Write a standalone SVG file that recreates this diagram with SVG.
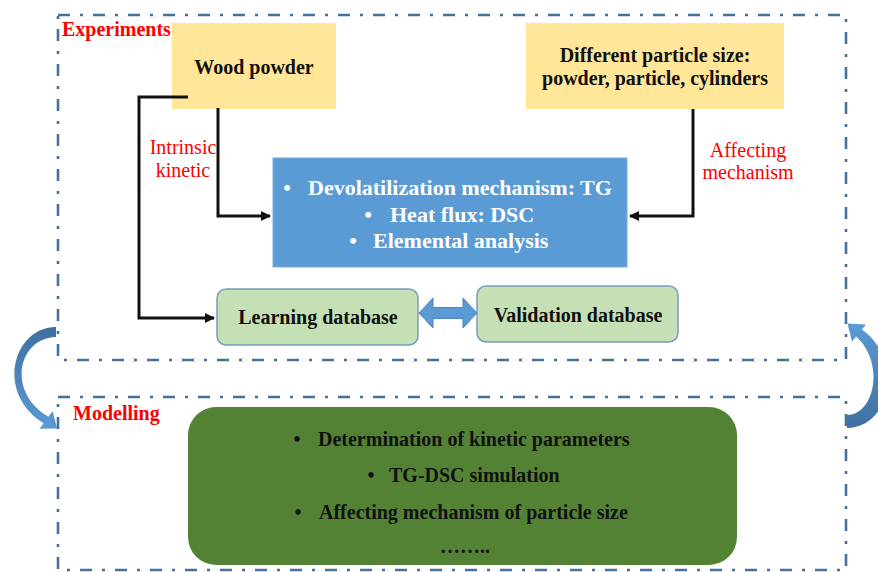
<svg xmlns="http://www.w3.org/2000/svg" width="878" height="572" viewBox="0 0 878 572">
<style>
.frame{fill:none;stroke:#44729E;stroke-width:2.6;stroke-dasharray:12 10 3 10}
.t{font-family:"Liberation Serif","Times New Roman",serif;font-weight:bold;font-size:20px;fill:#111}
.w{font-family:"Liberation Serif","Times New Roman",serif;font-weight:bold;font-size:22px;fill:#fff}
.red{font-family:"Liberation Serif","Times New Roman",serif;font-size:20px;fill:#FF0000}
.redb{font-family:"Liberation Serif","Times New Roman",serif;font-weight:bold;font-size:20px;fill:#FF0000}
.c{text-anchor:middle}
.conn{fill:none;stroke:#111;stroke-width:3}
.yel{fill:#FFE699}
.db{fill:#C5E0B4;stroke:#7A9CC0;stroke-width:1.5}
</style>
<defs>
<marker id="ah" viewBox="0 0 10 10" refX="9" refY="5" markerWidth="3.4" markerHeight="3.4" orient="auto" markerUnits="strokeWidth">
<path d="M0,0 L10,5 L0,10 Z" fill="#111"/>
</marker>
<linearGradient id="gl" x1="0" y1="327" x2="0" y2="430" gradientUnits="userSpaceOnUse">
<stop offset="0" stop-color="#3F6FA0"/><stop offset="1" stop-color="#5B9BD5"/>
</linearGradient>
<linearGradient id="gr" x1="0" y1="430" x2="0" y2="322" gradientUnits="userSpaceOnUse">
<stop offset="0" stop-color="#3F6FA0"/><stop offset="1" stop-color="#5B9BD5"/>
</linearGradient>
</defs>

<g id="frames">
<rect class="frame" x="58" y="15" width="788" height="345"/>
<rect class="frame" x="58" y="397" width="788" height="173"/>
<text class="redb" x="62" y="36">Experiments</text>
<text class="redb" x="73" y="420">Modelling</text>
</g>

<g id="wood-powder">
<rect class="yel" x="172" y="23" width="164" height="86"/>
<text class="t c" x="254" y="74">Wood powder</text>
</g>

<g id="particle-size">
<rect class="yel" x="526" y="23" width="258" height="86"/>
<text class="t c" x="655" y="62">Different particle size:</text>
<text class="t c" x="655" y="85">powder, particle, cylinders</text>
</g>

<g id="experiments-box">
<rect x="273" y="158" width="354" height="109" fill="#5B9BD5" stroke="#7FA9D9" stroke-width="1"/>
<text class="w c" x="287" y="195">•</text>
<text class="w" x="308" y="195">Devolatilization mechanism: TG</text>
<text class="w c" x="368" y="222">•</text>
<text class="w" x="390" y="222">Heat flux: DSC</text>
<text class="w c" x="353" y="248">•</text>
<text class="w" x="373" y="248">Elemental analysis</text>
</g>

<g id="learning-db">
<rect class="db" x="217" y="289" width="201" height="56" rx="9"/>
<text class="t c" x="318" y="324">Learning database</text>
</g>

<g id="validation-db">
<rect class="db" x="477" y="286" width="201" height="56" rx="9"/>
<text class="t c" x="578" y="322">Validation database</text>
</g>

<g id="modelling-box">
<rect x="188" y="407" width="549" height="158" rx="28" fill="#548235"/>
<text class="t c" x="297" y="446">•</text>
<text class="t" x="318" y="446">Determination of kinetic parameters</text>
<text class="t c" x="371" y="482">•</text>
<text class="t" x="389" y="482">TG-DSC simulation</text>
<text class="t c" x="298" y="519">•</text>
<text class="t" x="319" y="519">Affecting mechanism of particle size</text>
<text class="t c" x="465" y="553">……..</text>
</g>

<g id="connectors">
<polyline class="conn" points="188,97 139,97 139,318 214,318" marker-end="url(#ah)"/>
<polyline class="conn" points="218,108 218,216 270,216" marker-end="url(#ah)"/>
<polyline class="conn" points="693,109 693,216 630,216" marker-end="url(#ah)"/>
<polygon points="419,313 433,298 433,307.5 463,307.5 463,298 477,313 463,328 463,318.5 433,318.5 433,328" fill="#5B9BD5" stroke="#4A86C5" stroke-width="1"/>
<path d="M56,327 C14,327 -6,392 43.6,423.2 L39.4,428.8 L57.2,428.4 L52.6,411.2 L48.4,416.8 C6,392 18,338 56,337 Z" fill="url(#gl)"/>
<path d="M847,428 C890,428 905,360 861.9,329.5 L866,324.5 L847.5,323.4 L852,341.5 L856.1,336.5 C885,362 875,415 847,415 Z" fill="url(#gr)"/>
</g>

<g id="labels">
<text class="red c" x="183" y="154">Intrinsic</text>
<text class="red c" x="183" y="177">kinetic</text>
<text class="red c" x="748" y="157">Affecting</text>
<text class="red c" x="748" y="179">mechanism</text>
</g>
</svg>
